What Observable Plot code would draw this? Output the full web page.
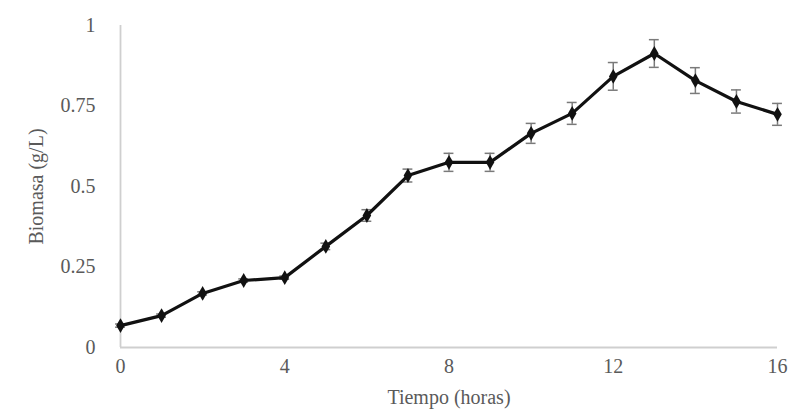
<!DOCTYPE html>
<html>
<head>
<meta charset="utf-8">
<script src="https://cdn.jsdelivr.net/npm/d3@7"></script>
<script src="https://cdn.jsdelivr.net/npm/@observablehq/plot@0.6"></script>
<style>
  html, body { margin: 0; padding: 0; background: #fff; }
  #chart svg { display: block; }
</style>
</head>
<body>
<div id="chart"></div>
<script>
const hours = [0, 1, 2, 3, 4, 5, 6, 7, 8, 9, 10, 11, 12, 13, 14, 15, 16];
const biomass = [0.068, 0.099, 0.168, 0.208, 0.217, 0.314, 0.41, 0.534, 0.575, 0.575, 0.665, 0.727, 0.842, 0.913, 0.829, 0.764, 0.724];
const errors = [0.005, 0.005, 0.005, 0.005, 0.005, 0.01, 0.018, 0.02, 0.028, 0.028, 0.031, 0.034, 0.043, 0.043, 0.04, 0.036, 0.034];
const xTicks = [0, 4, 8, 12, 16];
const yTicks = [0, 0.25, 0.5, 0.75, 1];

const data = hours.map((t, i) => ({t, y: biomass[i], e: errors[i]}));

const chart = Plot.plot({
  width: 792,
  height: 411,
  marginLeft: 120,
  marginRight: 15,
  marginTop: 25,
  marginBottom: 64,
  style: {fontFamily: "'Liberation Serif', 'DejaVu Serif', serif", fontSize: "20px", color: "#5a5a5a", background: "#fff"},
  x: {domain: [0, 16], ticks: xTicks, tickSize: 0, tickPadding: 11, label: "Tiempo (horas)", labelAnchor: "center", labelArrow: "none", labelOffset: 56, tickFormat: d => String(d)},
  y: {domain: [0, 1], ticks: yTicks, tickSize: 0, tickPadding: 25, label: "Biomasa (g/L)", labelAnchor: "center", labelArrow: "none", labelOffset: 92, tickFormat: d => String(d)},
  marks: [
    Plot.ruleY([0], {stroke: "#cfcfcf", strokeWidth: 1.8}),
    Plot.ruleX([0], {stroke: "#cfcfcf", strokeWidth: 1.8}),
    Plot.ruleX(data, {x: "t", y1: d => d.y - d.e, y2: d => d.y + d.e, stroke: "#7a7a7a", strokeWidth: 1.5}),
    Plot.ruleY(data, {y: d => d.y - d.e, x1: d => d.t - 0.12, x2: d => d.t + 0.12, stroke: "#7a7a7a", strokeWidth: 1.5}),
    Plot.ruleY(data, {y: d => d.y + d.e, x1: d => d.t - 0.12, x2: d => d.t + 0.12, stroke: "#7a7a7a", strokeWidth: 1.5}),
    Plot.line(data, {x: "t", y: "y", stroke: "#111", strokeWidth: 3.2}),
    Plot.dot(data, {x: "t", y: "y", symbol: "diamond", r: 4.5, fill: "#111", stroke: "none"})
  ]
});
document.getElementById("chart").appendChild(chart);
</script>
</body>
</html>
